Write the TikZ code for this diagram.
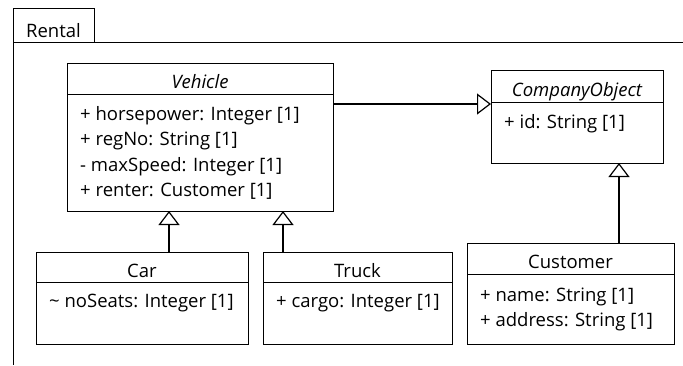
\documentclass[tikz,border=0pt]{standalone}
\usepackage{fontspec}
\setmainfont{Open Sans}
\usetikzlibrary{arrows.meta,positioning}

\tikzset{
  umlfont/.style={font=\fontsize{18.5}{22}\selectfont},
  frame/.style={line width=1pt},
  clshead/.style={draw, line width=1pt, inner sep=0pt, outer sep=0pt, text height=20pt, text depth=0pt, minimum height=31pt, umlfont},
  clsbody/.style={draw, line width=1pt, inner sep=0pt, outer sep=0pt},
  attr/.style={anchor=base west, inner sep=0pt, umlfont},
  gen/.style={line width=1.2pt, -{Triangle[open, length=14pt, width=21pt]}},
}

\begin{document}
\begin{tikzpicture}[x=1pt, y=-1pt]
\useasboundingbox (0,0) rectangle (683,365);

% package frame
\node[draw, frame, umlfont, inner sep=0pt, outer sep=0pt, minimum width=81pt, minimum height=34pt, text height=25pt, text depth=0pt, anchor=north west] (tab) at (13,8) {Rental};
\draw[frame] (tab.south west) -- (tab.south west |- 0,365);
\draw[frame] (tab.south west) -- (tab.south west -| 683,0);

% classes
\node[clshead, minimum width=266pt] (vehH) at (200,78.5) {\itshape Vehicle};
\node[clsbody, minimum width=266pt, minimum height=117pt, below=0pt of vehH] (veh) {};
\node[clshead, minimum width=172pt, minimum height=32pt] (cooH) at (577,86) {\itshape CompanyObject};
\node[clsbody, minimum width=172pt, minimum height=61pt, below=0pt of cooH] (coo) {};
\node[clshead, minimum width=212pt, minimum height=30pt] (carH) at (142,267) {Car};
\node[clsbody, minimum width=212pt, minimum height=62pt, below=0pt of carH] (car) {};
\node[clshead, minimum width=189pt, minimum height=30pt] (truH) at (357.5,267) {Truck};
\node[clsbody, minimum width=189pt, minimum height=62pt, below=0pt of truH] (tru) {};
\node[clshead, minimum width=207pt] (cusH) at (570.5,258.5) {Customer};
\node[clsbody, minimum width=207pt, minimum height=70pt, below=0pt of cusH] (cus) {};

% attributes
\foreach \a [count=\i from 0] in {+ horsepower: Integer [1], + regNo: String [1], - maxSpeed: Integer [1], + renter: Customer [1]}
  \node[attr] (veh-\i) at ([xshift=13pt, yshift={-26pt-25.5pt*\i}]veh.north west) {\a};
\node[attr] (coo-0) at ([xshift=13pt, yshift=-26pt]coo.north west) {+ id: String [1]};
\node[attr] (car-0) at ([xshift=13pt, yshift=-25pt]car.north west) {\textasciitilde\ noSeats: Integer [1]};
\node[attr] (tru-0) at ([xshift=13pt, yshift=-25pt]tru.north west) {+ cargo: Integer [1]};
\foreach \a [count=\i from 0] in {+ name: String [1], + address: String [1]}
  \node[attr] (cus-\i) at ([xshift=13pt, yshift={-27pt-25.5pt*\i}]cus.north west) {\a};

% generalisations
\coordinate (link) at ([yshift=-2pt]coo.north west);
\draw[gen] (link -| veh.east) -- (link);
\coordinate (carup) at ([xshift=27pt]carH.north);
\draw[gen] (carup) -- (carup |- veh.south);
\coordinate (truup) at ([xshift=-74.5pt]truH.north);
\draw[gen] (truup) -- (truup |- veh.south);
\coordinate (cusup) at ([xshift=48.5pt]cusH.north);
\draw[gen] (cusup) -- (cusup |- coo.south);
\end{tikzpicture}
\end{document}
